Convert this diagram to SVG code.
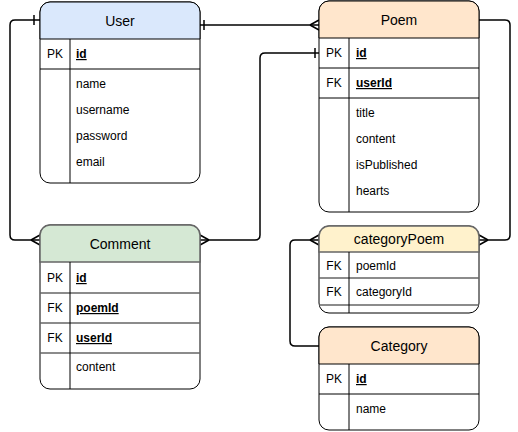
<svg xmlns="http://www.w3.org/2000/svg" width="518" height="432" viewBox="0 0 518 432">
<style>
.box{fill:#fff;stroke:#000;stroke-width:1}
.ln{stroke:#000;stroke-width:1;fill:none}
.ln2{stroke:#666;stroke-width:1.5;fill:none}
.hd{font-family:"Liberation Sans",Arial,sans-serif;font-size:14px;fill:#000;text-anchor:middle}
.k{font-family:"Liberation Sans",Arial,sans-serif;font-size:12px;fill:#000;text-anchor:middle}
.f{font-family:"Liberation Sans",Arial,sans-serif;font-size:12px;fill:#000}
.b{font-weight:bold;text-decoration:underline}
.c{stroke:#000;stroke-width:1.5;fill:none}
</style>
<rect width="518" height="432" fill="#fff"/>
<g id="connectors">
<path class="c" d="M40,20 L15,20 Q10,20 10,25 L10,235 Q10,240 15,240 L40,240"/>
<path class="c" d="M34,15 L34,25"/>
<path class="c" d="M31,240 L40,235 M31,240 L40,245"/>
<path class="c" d="M200,25 L319,25"/>
<path class="c" d="M204,20 L204,30"/>
<path class="c" d="M310,25 L319,20 M310,25 L319,30"/>
<path class="c" d="M319,53 L265,53 Q260,53 260,58 L260,235 Q260,240 255,240 L200,240"/>
<path class="c" d="M315,48 L315,58"/>
<path class="c" d="M209,240 L200,235 M209,240 L200,245"/>
<path class="c" d="M479,20 L505,20 Q510,20 510,25 L510,235 Q510,240 505,240 L479,240"/>
<path class="c" d="M488,240 L479,235 M488,240 L479,245"/>
<path class="c" d="M319,240 L295,240 Q290,240 290,245 L290,341 Q290,346 295,346 L319,346"/>
<path class="c" d="M310,240 L319,235 M310,240 L319,245"/>
</g>
<g id="User">
<rect class="box" x="40" y="2" width="160" height="181" rx="10"/>
<path d="M40,39 L40,12 A10,10 0 0 1 50,2 L190,2 A10,10 0 0 1 200,12 L200,39 Z" fill="#dae8fc" stroke="#000" stroke-width="1"/>
<path class="ln" d="M40,69 L200,69 M70,39 L70,183"/>
<text class="hd" x="120" y="26">User</text>
<text class="k" x="55" y="58">PK</text>
<text class="f b" x="76" y="58">id</text>
<text class="f" x="76" y="88">name</text>
<text class="f" x="76" y="114">username</text>
<text class="f" x="76" y="140">password</text>
<text class="f" x="76" y="166">email</text>
</g>
<g id="Poem">
<rect class="box" x="319" y="1" width="160" height="211" rx="10"/>
<path d="M319,38 L319,11 A10,10 0 0 1 329,1 L469,1 A10,10 0 0 1 479,11 L479,38 Z" fill="#ffe6cc" stroke="#000" stroke-width="1"/>
<path class="ln" d="M319,68 L479,68 M319,98 L479,98 M349,38 L349,212"/>
<text class="hd" x="399" y="25">Poem</text>
<text class="k" x="334" y="57">PK</text>
<text class="f b" x="356" y="57">id</text>
<text class="k" x="334" y="87">FK</text>
<text class="f b" x="356" y="87">userId</text>
<text class="f" x="356" y="117">title</text>
<text class="f" x="356" y="143">content</text>
<text class="f" x="356" y="169">isPublished</text>
<text class="f" x="356" y="195">hearts</text>
</g>
<g id="Comment">
<rect class="box" x="40" y="225" width="160" height="164" rx="10"/>
<path d="M40,262 L40,235 A10,10 0 0 1 50,225 L190,225 A10,10 0 0 1 200,235 L200,262 Z" fill="#d5e8d4" stroke="#666" stroke-width="1.5"/>
<path class="ln2" d="M40,293 L200,293 M40,323 L200,323 M40,353 L200,353"/>
<path class="ln" d="M70,262 L70,389"/>
<text class="hd" x="120" y="249">Comment</text>
<text class="k" x="55" y="282">PK</text>
<text class="f b" x="76" y="282">id</text>
<text class="k" x="55" y="312">FK</text>
<text class="f b" x="76" y="312">poemId</text>
<text class="k" x="55" y="342">FK</text>
<text class="f b" x="76" y="342">userId</text>
<text class="f" x="76" y="371">content</text>
</g>
<g id="categoryPoem">
<rect class="box" x="319" y="226" width="160" height="87" rx="10"/>
<path d="M319,252 L319,236 A10,10 0 0 1 329,226 L469,226 A10,10 0 0 1 479,236 L479,252 Z" fill="#fff2cc" stroke="#666" stroke-width="1.5"/>
<path class="ln2" d="M319,278 L479,278 M319,305 L479,305"/>
<path class="ln" d="M349,252 L349,313"/>
<text class="hd" x="399" y="244">categoryPoem</text>
<text class="k" x="334" y="270">FK</text>
<text class="f" x="356" y="270">poemId</text>
<text class="k" x="334" y="296">FK</text>
<text class="f" x="356" y="296">categoryId</text>
</g>
<g id="Category">
<rect class="box" x="319" y="327" width="160" height="103" rx="10"/>
<path d="M319,364 L319,337 A10,10 0 0 1 329,327 L469,327 A10,10 0 0 1 479,337 L479,364 Z" fill="#ffe6cc" stroke="#000" stroke-width="1"/>
<path class="ln" d="M319,394 L479,394 M349,364 L349,430"/>
<text class="hd" x="399" y="351">Category</text>
<text class="k" x="334" y="383">PK</text>
<text class="f b" x="356" y="383">id</text>
<text class="f" x="356" y="413">name</text>
</g>
</svg>
